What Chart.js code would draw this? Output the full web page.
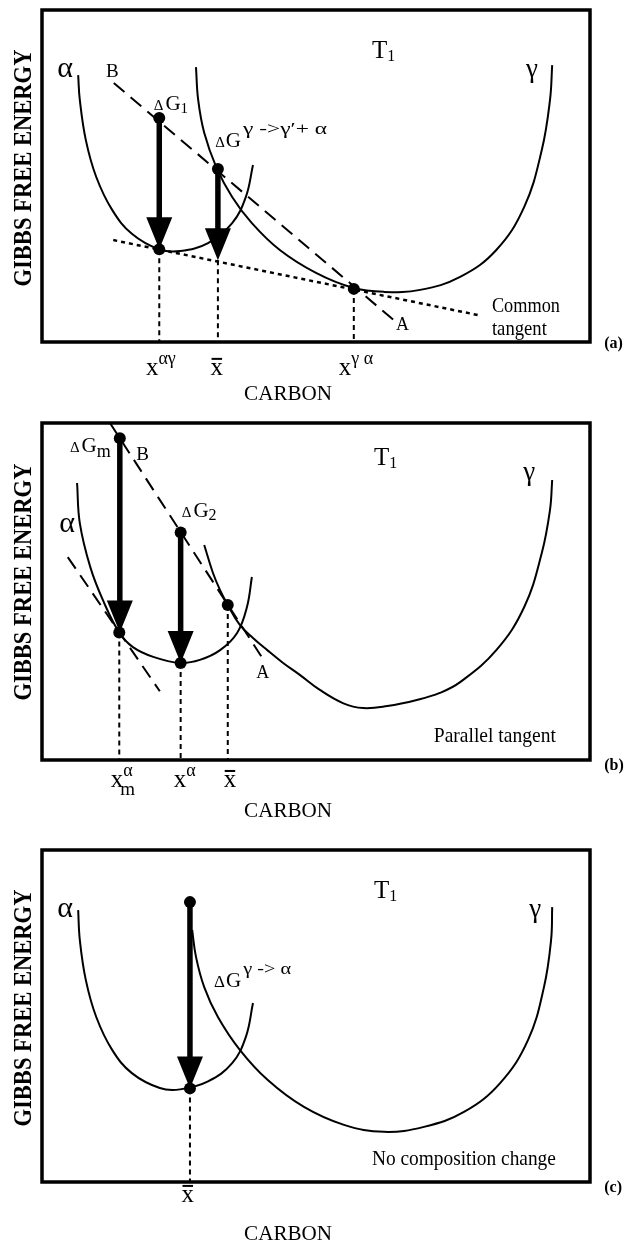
<!DOCTYPE html>
<html>
<head>
<meta charset="utf-8">
<script src="https://cdn.jsdelivr.net/npm/chart.js@4.4.1/dist/chart.umd.min.js"></script>
<style>
    html, body { margin: 0; padding: 0; background: #fff; }
    #wrap { position: relative; width: 627px; height: 1245px; }
    .panel { position: absolute; left: 0; width: 627px; height: 415px; }
</style>
</head>
<body>
<div id="wrap">
    <div class="panel" style="top:0"><canvas id="chartA" width="627" height="415"></canvas></div>
    <div class="panel" style="top:415px"><canvas id="chartB" width="627" height="415"></canvas></div>
    <div class="panel" style="top:830px"><canvas id="chartC" width="627" height="415"></canvas></div>
</div>
<script>
// composition (x) and free energy (y), both 0..100 inside each frame

// (a) common tangent
var alphaA = [[6.6, 80.4], [6.9, 72.9], [8.0, 60.8], [9.9, 49.7], [12.8, 39.8], [16.4, 32.6], [21.4, 27.9], [25.2, 27.4], [30.3, 29.8], [34.7, 35.8], [37.2, 43.7], [38.5, 53.3]];
var gammaA = [[28.1, 82.8], [28.5, 72.9], [29.6, 63.0], [31.8, 52.7], [34.7, 43.7], [38.3, 35.8], [43.4, 27.7], [50.0, 20.8], [56.6, 16.4], [62.4, 15.1], [69.0, 15.7], [76.3, 19.6], [82.9, 27.7], [88.0, 40.7], [91.2, 57.8], [92.7, 72.9], [93.1, 83.4]];
var lineBA_A = [[13.1, 78.0], [64.6, 6.0]];
var tangentA = [[13.0, 30.7], [79.6, 8.1]];
var pointsA = [[21.4, 67.5], [32.1, 52.1], [21.4, 27.9], [56.9, 16.0]];
var arrowFromA = [[21.4, 67.5], [32.1, 52.1]];
var arrowToA = [[21.4, 27.9], [32.1, 24.6]];
var dropsA = [[21.4, 27.9], [32.1, 24.6], [56.9, 16.0]];

// (b) parallel tangent
var alphaB = [[6.4, 82.2], [6.9, 70.3], [8.8, 57.3], [11.1, 47.5], [14.1, 37.8], [16.6, 33.5], [20.3, 30.6], [25.2, 28.8], [28.8, 29.7], [32.5, 32.6], [35.6, 37.7], [37.4, 45.4], [38.3, 54.3]];
var gammaB = [[29.6, 63.8], [31.2, 55.5], [32.5, 50.4], [33.9, 46.0], [36.1, 40.1], [38.5, 36.2], [41.1, 32.6], [44.0, 28.8], [47.1, 25.2], [50.7, 20.8], [54.9, 16.9], [58.6, 15.4], [63.0, 16.0], [68.4, 17.8], [72.6, 19.9], [76.3, 23.1], [82.9, 32.6], [88.0, 45.4], [91.2, 61.4], [92.7, 74.2], [93.1, 83.1]];
var lineBA_B = [[12.4, 100], [40.2, 30.3]];
var parallelB = [[4.7, 60.2], [21.5, 20.4]];
var pointsB = [[14.2, 95.5], [25.3, 67.5], [33.9, 46.0], [14.1, 37.8], [25.3, 28.8]];
var arrowFromB = [[14.2, 95.5], [25.3, 67.5]];
var arrowToB = [[14.2, 37.8], [25.3, 28.8]];
var dropsB = [[14.1, 37.8], [25.3, 28.8], [33.9, 46.0]];

// (c) no composition change
var alphaC = [[6.6, 81.9], [6.9, 72.9], [8.0, 60.8], [9.9, 49.7], [12.8, 39.8], [16.4, 32.8], [21.5, 28.3], [25.2, 27.9], [30.3, 30.3], [34.7, 35.8], [37.2, 43.7], [38.5, 53.9]];
var gammaC = [[27.4, 75.9], [28.1, 67.8], [29.6, 58.7], [32.1, 49.7], [36.1, 39.8], [41.2, 30.7], [47.8, 22.6], [55.1, 17.2], [62.4, 15.1], [69.7, 16.6], [77.0, 21.1], [83.6, 29.8], [88.7, 42.8], [91.6, 58.7], [92.9, 72.9], [93.1, 82.8]];
var pointsC = [[27.0, 84.3], [27.0, 28.2]];
var arrowFromC = [[27.0, 84.3]];
var arrowToC = [[27.0, 28.2]];
var dropsC = [[27.0, 28.2]];

var FONT = '"Liberation Serif", "DejaVu Serif", serif';

function xy(pts) {
    return pts.map(function (p) { return { x: p[0], y: p[1] }; });
}

function curve(pts) {
    return { data: xy(pts), showLine: true, borderColor: '#000', borderWidth: 2, pointRadius: 0, tension: 0.4 };
}

function dashed(pts, dash, width) {
    return { data: xy(pts), showLine: true, borderColor: '#000', borderWidth: width, borderDash: dash, pointRadius: 0, tension: 0 };
}

function dots(pts) {
    return { data: xy(pts), showLine: false, pointRadius: 6, pointBackgroundColor: '#000', pointBorderWidth: 0 };
}

function drops(pts) {
    return pts.map(function (p) {
        return dashed([[p[0], p[1]], [p[0], 0]], [5, 4], 2);
    });
}

function runFont(r) {
    return (r.bold ? 'bold ' : '') + r.size + 'px ' + FONT;
}

function drawRuns(ctx, runs, x, y, align) {
    var widths = runs.map(function (r) {
        ctx.font = runFont(r);
        return r.w || ctx.measureText(r.t).width;
    });
    var total = 0;
    widths.forEach(function (w, i) { total += w + (runs[i].gap || 0); });
    var cx = align === 'center' ? x - total / 2 : x;
    runs.forEach(function (r, i) {
        ctx.font = runFont(r);
        var nat = ctx.measureText(r.t).width;
        ctx.save();
        ctx.translate(cx, y + (r.dy || 0));
        if (r.w) {
            ctx.scale(r.w / nat, 1);
        }
        ctx.fillText(r.t, 0, 0);
        ctx.restore();
        cx += widths[i] + (r.gap || 0);
    });
}

function drawXLabel(ctx, cx, by, l) {
    ctx.font = '25px ' + FONT;
    var w = ctx.measureText('x').width;
    ctx.fillText('x', cx - w / 2, by);
    if (l.bar) {
        ctx.fillRect(cx - w / 2 + 1, by - 17, w - 2, 2);
    }
    ctx.font = '18px ' + FONT;
    if (l.sup) {
        ctx.fillText(l.sup, cx + w / 2, by - 11);
    }
    if (l.sub) {
        ctx.font = '19px ' + FONT;
        ctx.fillText(l.sub, cx + w / 2 - 3, by + 8);
    }
}

var decor = {
    id: 'decor',
    beforeDatasetsDraw: function (chart, args, opts) {
        var ctx = chart.ctx, xs = chart.scales.x, ys = chart.scales.y;
        ctx.save();
        ctx.fillStyle = '#000';
        ctx.strokeStyle = '#000';
        ctx.lineWidth = 5.5;
        (opts.from || []).forEach(function (f, i) {
            var t = opts.to[i];
            var x0 = xs.getPixelForValue(f[0]), y0 = ys.getPixelForValue(f[1]);
            var x1 = xs.getPixelForValue(t[0]), y1 = ys.getPixelForValue(t[1]);
            var headLen = 32, half = 13;
            ctx.beginPath();
            ctx.moveTo(x0, y0);
            ctx.lineTo(x1, y1 - headLen + 2);
            ctx.stroke();
            ctx.beginPath();
            ctx.moveTo(x1 - half, y1 - headLen);
            ctx.lineTo(x1 + half, y1 - headLen);
            ctx.lineTo(x1, y1);
            ctx.closePath();
            ctx.fill();
        });
        ctx.restore();
    },
    afterDraw: function (chart, args, opts) {
        var ctx = chart.ctx, a = chart.chartArea, xs = chart.scales.x, ys = chart.scales.y;
        ctx.save();
        ctx.strokeStyle = '#000';
        ctx.fillStyle = '#000';
        ctx.lineWidth = 3.5;
        ctx.strokeRect(a.left, a.top, a.right - a.left, a.bottom - a.top);
        ctx.textAlign = 'left';
        ctx.textBaseline = 'alphabetic';
        (opts.labels || []).forEach(function (l) {
            var px = xs.getPixelForValue(l.x), py = ys.getPixelForValue(l.y);
            if (l.xlabel) {
                drawXLabel(ctx, px, py, l);
            } else if (l.rot) {
                ctx.save();
                ctx.translate(px, py);
                ctx.rotate(-Math.PI / 2);
                drawRuns(ctx, l.runs, 0, 0, 'center');
                ctx.restore();
            } else {
                drawRuns(ctx, l.runs, px, py, l.align);
            }
        });
        ctx.restore();
    }
};

function commonLabels(tag, gibbsY, carbonY, alphaPos, gammaPos, tPos) {
    return [
        { x: -2.0, y: gibbsY, rot: true, runs: [{ t: 'GIBBS FREE ENERGY', size: 26, bold: true, w: 237 }] },
        { x: 44.9, y: carbonY, align: 'center', runs: [{ t: 'CARBON', size: 22, w: 88 }] },
        { x: 102.6, y: tag[1], runs: [{ t: tag[0], size: 16, bold: true }] },
        { x: alphaPos[0], y: alphaPos[1], align: 'center', runs: [{ t: 'α', size: 30 }] },
        { x: gammaPos[0], y: gammaPos[1], align: 'center', runs: [{ t: 'γ', size: 27 }] },
        { x: tPos[0], y: tPos[1], runs: [{ t: 'T', size: 25 }, { t: '1', size: 16, dy: 3 }] }
    ];
}

function makePanel(id, pad, datasets, from, to, labels) {
    var ctx = document.getElementById(id).getContext('2d');
    return new Chart(ctx, {
        type: 'scatter',
        data: { datasets: datasets },
        options: {
            responsive: false,
            animation: false,
            events: [],
            layout: { padding: pad },
            plugins: {
                legend: { display: false },
                tooltip: { enabled: false },
                decor: { from: from, to: to, labels: labels }
            },
            scales: {
                x: { type: 'linear', min: 0, max: 100, display: false },
                y: { type: 'linear', min: 0, max: 100, display: false }
            }
        },
        plugins: [decor]
    });
}

document.addEventListener('DOMContentLoaded', function () {
    var labelsA = commonLabels(['(a)', -1.8], 52.4, -17.5, [4.2, 79.8], [89.4, 79.8], [60.2, 85.5]).concat([
        { x: 11.7, y: 79.8, runs: [{ t: 'B', size: 19 }] },
        { x: 20.4, y: 69.9, runs: [{ t: 'Δ', size: 15, gap: 2 }, { t: 'G', size: 21 }, { t: '1', size: 15, dy: 3 }] },
        { x: 31.6, y: 58.7, runs: [{ t: 'Δ', size: 15, gap: 1 }, { t: 'G', size: 21, gap: 2 }, { t: 'γ ->γ′+ α', size: 17, dy: -13, w: 84 }] },
        { x: 64.6, y: 3.6, runs: [{ t: 'A', size: 18 }] },
        { x: 82.1, y: 9.0, runs: [{ t: 'Common', size: 22, w: 68 }] },
        { x: 82.1, y: 2.1, runs: [{ t: 'tangent', size: 22, w: 55 }] },
        { x: 20.1, y: -9.9, xlabel: true, sup: 'αγ' },
        { x: 31.9, y: -9.9, xlabel: true, bar: true },
        { x: 55.3, y: -9.9, xlabel: true, sup: 'γ α' }
    ]);
    makePanel('chartA', { left: 42, right: 37, top: 10, bottom: 73 },
        [curve(alphaA), curve(gammaA), dashed(lineBA_A, [14, 8], 2), dashed(tangentA, [4, 4], 2.5)]
            .concat(drops(dropsA)).concat([dots(pointsA)]),
        arrowFromA, arrowToA, labelsA);

    var labelsB = commonLabels(['(b)', -3.0], 52.8, -16.9, [4.6, 67.7], [88.9, 83.1], [60.6, 87.5]).concat([
        { x: 5.1, y: 91.4, runs: [{ t: 'Δ', size: 15, gap: 2 }, { t: 'G', size: 21 }, { t: 'm', size: 18, dy: 5 }] },
        { x: 17.2, y: 89.0, runs: [{ t: 'B', size: 19 }] },
        { x: 25.5, y: 72.1, runs: [{ t: 'Δ', size: 15, gap: 2 }, { t: 'G', size: 21 }, { t: '2', size: 16, dy: 3 }] },
        { x: 39.1, y: 24.3, runs: [{ t: 'A', size: 18 }] },
        { x: 71.5, y: 5.3, runs: [{ t: 'Parallel tangent', size: 21, w: 122 }] },
        { x: 13.7, y: -8.0, xlabel: true, sup: 'α', sub: 'm' },
        { x: 25.2, y: -8.0, xlabel: true, sup: 'α' },
        { x: 34.3, y: -8.0, xlabel: true, bar: true }
    ]);
    makePanel('chartB', { left: 42, right: 37, top: 8, bottom: 70 },
        [curve(alphaB), curve(gammaB), dashed(lineBA_B, [14, 8], 2), dashed(parallelB, [14, 8], 2)]
            .concat(drops(dropsB)).concat([dots(pointsB)]),
        arrowFromB, arrowToB, labelsB);

    var labelsC = commonLabels(['(c)', -3.0], 52.4, -17.5, [4.2, 79.8], [90.0, 79.8], [60.6, 85.5]).concat([
        { x: 31.4, y: 58.7, runs: [{ t: 'Δ', size: 17, gap: 1 }, { t: 'G', size: 21, gap: 2 }, { t: 'γ -> α', size: 17, dy: -13, w: 48 }] },
        { x: 60.2, y: 5.1, runs: [{ t: 'No composition change', size: 21, w: 184 }] },
        { x: 26.6, y: -6.0, xlabel: true, bar: true }
    ]);
    makePanel('chartC', { left: 42, right: 37, top: 20, bottom: 63 },
        [curve(alphaC), curve(gammaC)].concat(drops(dropsC)).concat([dots(pointsC)]),
        arrowFromC, arrowToC, labelsC);
});
</script>
</body>
</html>
